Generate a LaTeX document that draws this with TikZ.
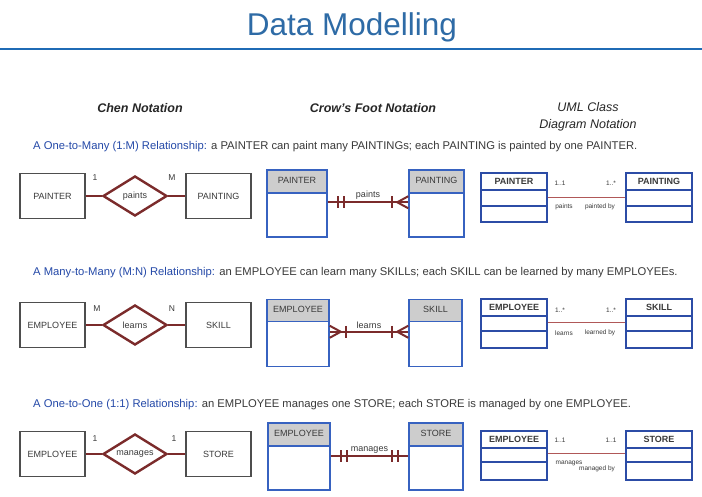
\documentclass[tikz,border=0pt]{standalone}
\usepackage{fontspec}
\setmainfont{Liberation Sans}
\usetikzlibrary{shapes.geometric,calc}
\definecolor{titleblue}{HTML}{2E6BA6}
\definecolor{rulerblue}{HTML}{1F6BB5}
\definecolor{relblue}{HTML}{2449A8}
\definecolor{txtgray}{HTML}{3A3A3A}
\definecolor{chenred}{HTML}{7B2B2B}
\definecolor{crowblue}{HTML}{3762C0}
\definecolor{umlblue}{HTML}{2C4CA6}
\definecolor{umlred}{HTML}{B05858}
\definecolor{hdrgray}{HTML}{CDCDCD}
\tikzset{
 chenbox/.style={draw=txtgray!90, line width=1.4pt, minimum width=65pt, minimum height=45pt, inner sep=0pt, font=\fontsize{9}{10}\selectfont, text=txtgray},
 chendiam/.style={diamond, draw=chenred, line width=2.4pt, minimum width=64pt, minimum height=40pt, aspect=1.6, inner sep=0pt, font=\fontsize{9}{10}\selectfont, text=txtgray},
 chenline/.style={draw=chenred, line width=2.4pt},
 card/.style={font=\fontsize{8.5}{9}\selectfont, text=txtgray, inner sep=0pt},
 crowbox/.style={draw=crowblue, line width=1.5pt, minimum height=67pt, inner sep=0pt,
   path picture={\fill[hdrgray] (path picture bounding box.north west) rectangle ([yshift=-#1]path picture bounding box.north east);
   \draw[crowblue, line width=1.5pt] ([yshift=-#1]path picture bounding box.north west) -- ([yshift=-#1]path picture bounding box.north east);}},
 crowhdr/.style={font=\fontsize{9}{10}\selectfont, text=txtgray, inner sep=0pt},
 crowline/.style={draw=chenred, line width=2.4pt},
 crowmark/.style={draw=chenred, line width=2pt},
 umlbox/.style={draw=umlblue, line width=1.8pt, minimum width=66pt, minimum height=49pt, inner sep=0pt},
 umldiv/.style={draw=umlblue, line width=1.8pt},
 umlhdr/.style={font=\bfseries\fontsize{9}{10}\selectfont, text=txtgray, inner sep=0pt},
 umlline/.style={draw=umlred, line width=1.1pt},
 umllbl/.style={font=\fontsize{6.5}{7}\selectfont, text=txtgray, inner sep=0pt},
 colhdr/.style={font=\bfseries\itshape\fontsize{12.5}{14}\selectfont, text=black!85},
 reltext/.style={anchor=west, inner sep=0pt, font=\fontsize{11.25}{12}\selectfont, text=txtgray},
}
\begin{document}
\begin{tikzpicture}[x=1pt,y=-1pt]
\useasboundingbox[fill=white] (0,0) rectangle (702,496);
% title
\node[font=\fontsize{31.5}{34}\selectfont, text=titleblue] (title) at (352,27.5) {Data Modelling};
\draw[rulerblue, line width=1.5pt] (0,49) -- (702,49);
% column headers
\node[colhdr] (h1) at (140,108) {Chen Notation};
\node[colhdr] (h2) at (373,108) {Crow’s Foot Notation};
\node[font=\itshape\fontsize{12.5}{17}\selectfont, text=black!85, align=center] (h3) at (588,116.5) {UML Class\\Diagram Notation};
% relationship sentences
\node[reltext] (s1) at (33,147) {{\color{relblue}A One-to-Many (1:M) Relationship:} a PAINTER can paint many PAINTINGs; each PAINTING is painted by one PAINTER.};
\node[reltext] (s2) at (33,273) {{\color{relblue}A Many-to-Many (M:N) Relationship:} an EMPLOYEE can learn many SKILLs; each SKILL can be learned by many EMPLOYEEs.};
\node[reltext] (s3) at (33,405) {{\color{relblue}A One-to-One (1:1) Relationship:} an EMPLOYEE manages one STORE; each STORE is managed by one EMPLOYEE.};

% ===== Chen =====
\node[chenbox] (ca1) at (52.5,196) {PAINTER};
\node[chendiam] (cr1) at (135,196) {paints};
\node[chenbox] (cb1) at (218.5,196) {PAINTING};
\draw[chenline] (ca1) -- (cr1);
\draw[chenline] (cr1) -- (cb1);
\node[card] (k1a) at (95,178) {1};
\node[card] (k1b) at (172,178) {M};

\node[chenbox] (ca2) at (52.5,325) {EMPLOYEE};
\node[chendiam] (cr2) at (135,325) {learns};
\node[chenbox] (cb2) at (218.5,325) {SKILL};
\draw[chenline] (ca2) -- (cr2);
\draw[chenline] (cr2) -- (cb2);
\node[card] (k2a) at (97,309) {M};
\node[card] (k2b) at (172,309) {N};

\node[chenbox] (ca3) at (52.5,454) {EMPLOYEE};
\node[chendiam] (cr3) at (135,454) {manages};
\node[chenbox] (cb3) at (218.5,454) {STORE};
\draw[chenline] (ca3) -- (cr3);
\draw[chenline] (cr3) -- (cb3);
\node[card] (k3a) at (95,439) {1};
\node[card] (k3b) at (174,439) {1};

% ===== Crow's foot =====
% row 1
\node[crowbox=23pt, minimum width=60pt] (fa1) at (297,203.5) {};
\node[crowbox=23pt, minimum width=55pt] (fb1) at (436.5,203.5) {};
\node[crowhdr] (fa1h) at ($(fa1.north)+(0,11.5)$) {PAINTER};
\node[crowhdr] (fb1h) at ($(fb1.north)+(0,11.5)$) {PAINTING};
\coordinate (f1l) at ($(fa1.north east)+(0,33)$);
\coordinate (f1r) at ($(fb1.north west)+(0,33)$);
\draw[crowline] (f1l) -- node[above=2pt, crowhdr] (f1t) {paints} (f1r);
\draw[crowmark] ($(f1l)+(10,-6)$) -- ($(f1l)+(10,6)$);
\draw[crowmark] ($(f1l)+(16,-6)$) -- ($(f1l)+(16,6)$);
\draw[crowmark] ($(f1r)+(-16,-6)$) -- ($(f1r)+(-16,6)$);
\draw[crowmark] ($(f1r)+(0,-6)$) -- ($(f1r)+(-11,0)$) -- ($(f1r)+(0,6)$);
% row 2
\node[crowbox=22pt, minimum width=62pt] (fa2) at (298,333) {};
\node[crowbox=22pt, minimum width=53pt] (fb2) at (435.5,333) {};
\node[crowhdr] (fa2h) at ($(fa2.north)+(0,11)$) {EMPLOYEE};
\node[crowhdr] (fb2h) at ($(fb2.north)+(0,11)$) {SKILL};
\coordinate (f2l) at ($(fa2.north east)+(0,33)$);
\coordinate (f2r) at ($(fb2.north west)+(0,33)$);
\draw[crowline] (f2l) -- node[above=2pt, crowhdr] (f2t) {learns} (f2r);
\draw[crowmark] ($(f2l)+(0,-6)$) -- ($(f2l)+(11,0)$) -- ($(f2l)+(0,6)$);
\draw[crowmark] ($(f2l)+(16,-6)$) -- ($(f2l)+(16,6)$);
\draw[crowmark] ($(f2r)+(-16,-6)$) -- ($(f2r)+(-16,6)$);
\draw[crowmark] ($(f2r)+(0,-6)$) -- ($(f2r)+(-11,0)$) -- ($(f2r)+(0,6)$);
% row 3
\node[crowbox=23pt, minimum width=62pt] (fa3) at (299,456.5) {};
\node[crowbox=23pt, minimum width=54pt] (fb3) at (436,456.5) {};
\node[crowhdr] (fa3h) at ($(fa3.north)+(0,11.5)$) {EMPLOYEE};
\node[crowhdr] (fb3h) at ($(fb3.north)+(0,11.5)$) {STORE};
\coordinate (f3l) at ($(fa3.north east)+(0,34)$);
\coordinate (f3r) at ($(fb3.north west)+(0,34)$);
\draw[crowline] (f3l) -- node[above=2pt, crowhdr] (f3t) {manages} (f3r);
\draw[crowmark] ($(f3l)+(10,-6)$) -- ($(f3l)+(10,6)$);
\draw[crowmark] ($(f3l)+(16,-6)$) -- ($(f3l)+(16,6)$);
\draw[crowmark] ($(f3r)+(-16,-6)$) -- ($(f3r)+(-16,6)$);
\draw[crowmark] ($(f3r)+(-10,-6)$) -- ($(f3r)+(-10,6)$);

% ===== UML =====
% row 1
\node[umlbox] (ua1) at (514,197.5) {};
\node[umlbox] (ub1) at (659,197.5) {};
\foreach \n in {ua1,ub1}{
  \draw[umldiv] ($(\n.north west)+(0,18)$) -- ($(\n.north east)+(0,18)$);
  \draw[umldiv] ($(\n.north west)+(0,34)$) -- ($(\n.north east)+(0,34)$);
}
\node[umlhdr] (ua1h) at ($(ua1.north)+(0,9)$) {PAINTER};
\node[umlhdr] (ub1h) at ($(ub1.north)+(0,9)$) {PAINTING};
\draw[umlline] ($(ua1.north east)+(0,25)$) coordinate (u1l) -- ($(ub1.north west)+(0,25)$) coordinate (u1r);
\node[umllbl] (u1a) at (560,183) {1..1};
\node[umllbl] (u1b) at (611,183) {1..*};
\node[umllbl] (u1c) at (564,207) {paints};
\node[umllbl] (u1d) at (600,207) {painted by};
% row 2
\node[umlbox] (ua2) at (514,323.5) {};
\node[umlbox] (ub2) at (659,323.5) {};
\foreach \n in {ua2,ub2}{
  \draw[umldiv] ($(\n.north west)+(0,18)$) -- ($(\n.north east)+(0,18)$);
  \draw[umldiv] ($(\n.north west)+(0,33)$) -- ($(\n.north east)+(0,33)$);
}
\node[umlhdr] (ua2h) at ($(ua2.north)+(0,9)$) {EMPLOYEE};
\node[umlhdr] (ub2h) at ($(ub2.north)+(0,9)$) {SKILL};
\draw[umlline] ($(ua2.north east)+(0,24)$) coordinate (u2l) -- ($(ub2.north west)+(0,24)$) coordinate (u2r);
\node[umllbl] (u2a) at (560,310) {1..*};
\node[umllbl] (u2b) at (611,310) {1..*};
\node[umllbl] (u2c) at (564,333) {learns};
\node[umllbl] (u2d) at (600,333) {learned by};
% row 3
\node[umlbox] (ua3) at (514,455.5) {};
\node[umlbox] (ub3) at (659,455.5) {};
\foreach \n in {ua3,ub3}{
  \draw[umldiv] ($(\n.north west)+(0,18)$) -- ($(\n.north east)+(0,18)$);
  \draw[umldiv] ($(\n.north west)+(0,32)$) -- ($(\n.north east)+(0,32)$);
}
\node[umlhdr] (ua3h) at ($(ua3.north)+(0,9)$) {EMPLOYEE};
\node[umlhdr] (ub3h) at ($(ub3.north)+(0,9)$) {STORE};
\draw[umlline] ($(ua3.north east)+(0,23)$) coordinate (u3l) -- ($(ub3.north west)+(0,23)$) coordinate (u3r);
\node[umllbl] (u3a) at (560,440) {1..1};
\node[umllbl] (u3b) at (611,440) {1..1};
\node[umllbl] (u3c) at (569,463) {manages};
\node[umllbl] (u3d) at (597,469) {managed by};
\end{tikzpicture}
\end{document}
